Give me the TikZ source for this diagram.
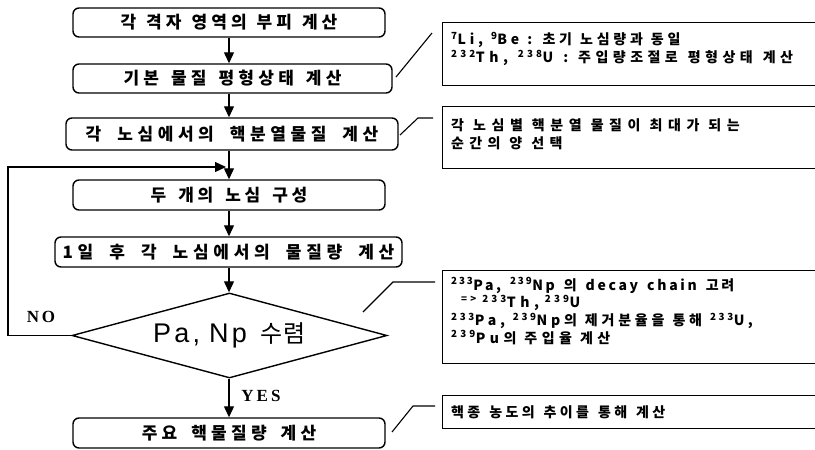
\documentclass[tikz,border=0pt]{standalone}
\usepackage{fontspec}
\setmainfont{Noto Sans CJK KR}
\newfontfamily\kr{Noto Sans CJK KR}
\newfontfamily\lat{Liberation Sans}
\newfontfamily\tms{Liberation Serif}
\usetikzlibrary{arrows.meta,shapes.geometric}
\newcommand{\sps}[1]{\textsuperscript{#1}}
\newcommand{\lsp}[2]{\addfontfeatures{LetterSpace=#1}\spaceskip=#2pt\relax}
\begin{document}
\begin{tikzpicture}[x=1pt,y=-1pt,
  pbox/.style={draw, line width=1.4pt, rounded corners=6pt, inner sep=0pt},
  lbl/.style={font=\kr\bfseries\fontsize{17}{19}\selectfont},
  arr/.style={line width=1.2pt, -{Triangle[width=10pt,length=11pt]}},
  lead/.style={line width=1.1pt},
  nbox/.style={draw, line width=1.4pt, inner sep=0pt, anchor=north west},
  ntxt/.style={font=\kr\bfseries\fontsize{14}{18}\selectfont, align=left, anchor=west, inner sep=0pt},
  yn/.style={font=\tms\bfseries\fontsize{17}{17}\selectfont, inner sep=0pt}
]
\useasboundingbox (0,0) rectangle (815,450);
\clip (0,0) rectangle (815,450);

% spine
\coordinate (sx) at (229,0);

% main boxes
\node[pbox, lbl, minimum width=312pt, minimum height=29pt] (b1) at (229,22.5) {\lsp{24}{10}각 격자 영역의 부피 계산};
\node[pbox, lbl, minimum width=319pt, minimum height=29pt] (b2) at (232.5,78.5) {\lsp{25}{12}기본 물질 평형상태 계산};
\node[pbox, lbl, minimum width=332pt, minimum height=32pt] (b3) at (232,134) {\lsp{27}{16}각 노심에서의 핵분열물질 계산};
\node[pbox, lbl, minimum width=312pt, minimum height=30pt] (b4) at (229,195) {\lsp{22}{12}두 개의 노심 구성};
\node[pbox, lbl, minimum width=347pt, minimum height=30pt] (b5) at (228.5,252) {\lsp{28}{16}1일 후 각 노심에서의 물질량 계산};
\node[diamond, draw, line width=1.4pt, aspect=3.7, minimum width=315pt, minimum height=85pt, inner sep=0pt] (d) at (229.5,335.5)
  {{\lat\fontsize{27}{27}\selectfont\addfontfeatures{LetterSpace=12}Pa,\hspace{9pt}Np}\hspace{14pt}{\kr\fontsize{24}{24}\selectfont\addfontfeatures{LetterSpace=3}수렴}};
\node[pbox, lbl, minimum width=312pt, minimum height=30pt] (b6) at (229,433) {\lsp{25}{14}주요 핵물질량 계산};

% arrows along spine
\draw[arr] (b1.south -| sx) -- (b2.north -| sx);
\draw[arr] (b2.south -| sx) -- (b3.north -| sx);
\draw[arr] (b3.south -| sx) -- (b4.north -| sx);
\draw[arr] (b4.south -| sx) -- (b5.north -| sx);
\draw[arr] (b5.south -| sx) -- (d.north -| sx);
\draw[arr] (d.south -| sx) -- (b6.north -| sx);

% loop back
\coordinate (lc) at (8,167);
\coordinate (jn) at (226,167);
\draw[arr] (d.west) -| (lc) -- (jn);

\node[yn] (no) at (41,317) {\addfontfeatures{LetterSpace=15}NO};
\node[yn] (yes) at (261,396) {\addfontfeatures{LetterSpace=18}YES};

% note boxes
\node[nbox, minimum width=400pt, minimum height=63pt] (rA) at (442,22) {};
\node[nbox, minimum width=400pt, minimum height=62pt] (rB) at (442,106) {};
\node[nbox, minimum width=400pt, minimum height=93pt] (rC) at (442,270) {};
\node[nbox, minimum width=400pt, minimum height=33pt] (rD) at (442,395) {};

\node[ntxt] (tA) at (451,49) {\lsp{27}{8}\sps{7}Li, \sps{9}Be : 초기 노심량과 동일\\\lsp{32}{10}\sps{232}Th, \sps{238}U : 주입량조절로 평형상태 계산};
\node[ntxt] (tB) at (451,134) {\lsp{40}{9}각 노심별 핵분열 물질이 최대가 되는\\\lsp{38}{9}순간의 양 선택};
\node[ntxt, font=\kr\bfseries\fontsize{14}{17.7}\selectfont] (tC) at (451,311) {\lsp{19}{9}\sps{233}Pa, \sps{239}Np 의 decay chain 고려\\\hspace*{10pt}\lsp{32}{6}\sps{=> 233}Th, \sps{239}U\\\lsp{27}{8}\sps{233}Pa, \sps{239}Np의 제거분율을 통해 \sps{233}U,\\\lsp{32}{8}\sps{239}Pu의 주입율 계산};
\node[ntxt] (tD) at (451,412) {\lsp{24}{9}핵종 농도의 추이를 통해 계산};

% leader lines
\coordinate (a1) at (396,77);
\coordinate (a2) at (432,33);
\draw[lead] (a1) -- (a2);
\coordinate (c1) at (400,135);
\coordinate (c2) at (418,118);
\coordinate (c3) at (433,118);
\draw[lead] (c1) -- (c2) -- (c3);
\coordinate (e1) at (363,312);
\coordinate (e2) at (393,282);
\coordinate (e3) at (435,282);
\draw[lead] (e1) -- (e2) -- (e3);
\coordinate (f1) at (392,432);
\coordinate (f2) at (413,406);
\coordinate (f3) at (435,406);
\draw[lead] (f1) -- (f2) -- (f3);
\end{tikzpicture}
\end{document}
